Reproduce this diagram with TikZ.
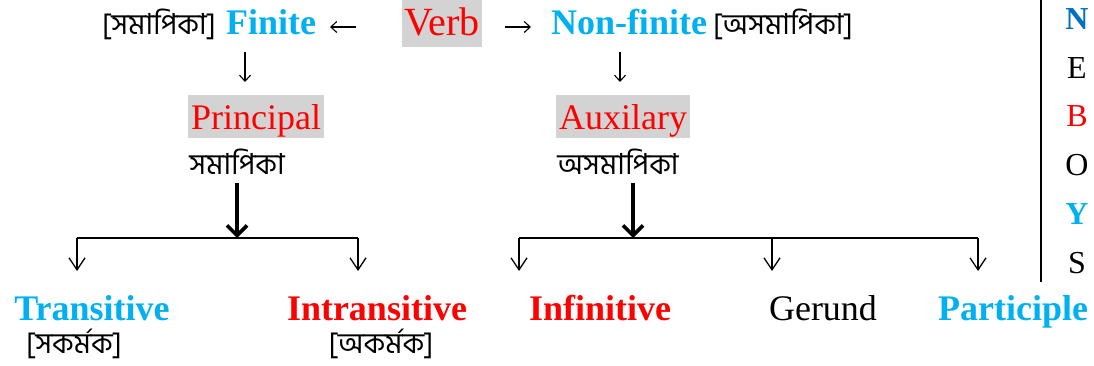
\documentclass[tikz,border=0pt]{standalone}
\usepackage{fontspec}
\setmainfont{Liberation Serif}
\newfontfamily\bn[Script=Bengali]{Hind Siliguri}
\usetikzlibrary{arrows.meta}
\definecolor{cy}{HTML}{00B0F0}
\definecolor{nb}{HTML}{0070C0}
\definecolor{rd}{HTML}{FF0000}
\definecolor{gbox}{HTML}{D3D3D3}
\begin{document}
\begin{tikzpicture}[x=1pt,y=-1pt,
  lbl/.style={anchor=base,inner sep=0pt,font=\fontsize{36}{40}\selectfont},
  blbl/.style={anchor=base,inner sep=0pt,font=\fontsize{36}{40}\selectfont\bfseries},
  bng/.style={anchor=base,inner sep=0pt,font=\fontsize{29}{34}\selectfont\bn},
  hl/.style={anchor=base,fill=gbox,inner ysep=0pt,inner xsep=3pt,text=rd,font=\fontsize{36}{40}\selectfont,text height=35pt,text depth=8pt},
  side/.style={anchor=base,inner sep=0pt,font=\fontsize{32}{36}\selectfont},
  tarrow/.style={-{Straight Barb[length=6pt,width=11pt]},line width=1.1pt},
  bigarrow/.style={-{Straight Barb[length=10pt,width=20pt]},line width=3.6pt},
  droparrow/.style={-{Straight Barb[length=12pt,width=16pt]},line width=1.3pt},
  bus/.style={line width=1.5pt}]
\useasboundingbox (0,0) rectangle (1094,366);
% top row
\node[bng] (bfin) at (159,35) {[সমাপিকা]};
\node[blbl,text=cy] (fin) at (271,35) {Finite};
\node[anchor=base,fill=gbox,inner ysep=0pt,inner xsep=2pt,text=rd,font=\fontsize{40}{44}\selectfont,text height=36pt,text depth=11pt] (verb) at (442,36) {Verb};
\node[blbl,text=cy] (nfin) at (629,35) {Non-finite};
\node[bng] (bnfin) at (783,35) {[অসমাপিকা]};
\coordinate (la1) at (356,27); \coordinate (la2) at (330,27);
\coordinate (ra1) at (505,27); \coordinate (ra2) at (531,27);
\draw[tarrow] (la1) -- (la2);
\draw[tarrow] (ra1) -- (ra2);
% second row
\node[hl] (prin) at (256,130) {Principal};
\node[hl] (aux) at (623,130) {Auxilary};
\draw[tarrow] (245,52) -- (245,82);
\draw[tarrow] (620,52) -- (620,82);
\node[bng] (sam) at (237,175) {সমাপিকা};
\node[bng] (asam) at (618,175) {অসমাপিকা};
% buses
\coordinate (lm) at (237,238);
\coordinate (lb1) at (77,238); \coordinate (lb2) at (358,238);
\coordinate (rm) at (633,238);
\coordinate (rb1) at (519,238); \coordinate (rb2) at (772,238); \coordinate (rb3) at (978,238);
\draw[bigarrow] (237,183) -- (lm);
\draw[bigarrow] (633,183) -- (rm);
\draw[bus] (lb1) -- (lb2);
\draw[bus] (rb1) -- (rb3);
% bottom labels
\node[blbl,text=cy] (trans) at (92,320) {Transitive};
\node[blbl,text=rd] (intr) at (377,320) {Intransitive};
\node[blbl,text=rd] (inf) at (600,320) {Infinitive};
\node[lbl] (ger) at (823,320) {Gerund};
\node[blbl,text=cy] (part) at (1013,320) {Participle};
\node[bng] (btr) at (74,353) {[সকর্মক]};
\node[bng] (bintr) at (381,353) {[অকর্মক]};
\coordinate (d1) at (77,271); \coordinate (d2) at (358,271);
\coordinate (d3) at (519,271); \coordinate (d4) at (772,271); \coordinate (d5) at (978,271);
\draw[droparrow] (lb1) -- (d1);
\draw[droparrow] (lb2) -- (d2);
\draw[droparrow] (rb1) -- (d3);
\draw[droparrow] (rb2) -- (d4);
\draw[droparrow] (rb3) -- (d5);
% side column
\coordinate (vt) at (1041,0); \coordinate (vb) at (1041,282);
\draw[line width=1.5pt] (vt) -- (vb);
\node[side,text=nb,font=\fontsize{32}{36}\selectfont\bfseries] (sN) at (1077,30) {N};
\node[side] (sE) at (1077,79) {E};
\node[side,text=rd] (sB) at (1077,127) {B};
\node[side] (sO) at (1077,176) {O};
\node[side,text=cy,font=\fontsize{32}{36}\selectfont\bfseries] (sY) at (1077,224) {Y};
\node[side] (sS) at (1077,273) {S};
\end{tikzpicture}
\end{document}
